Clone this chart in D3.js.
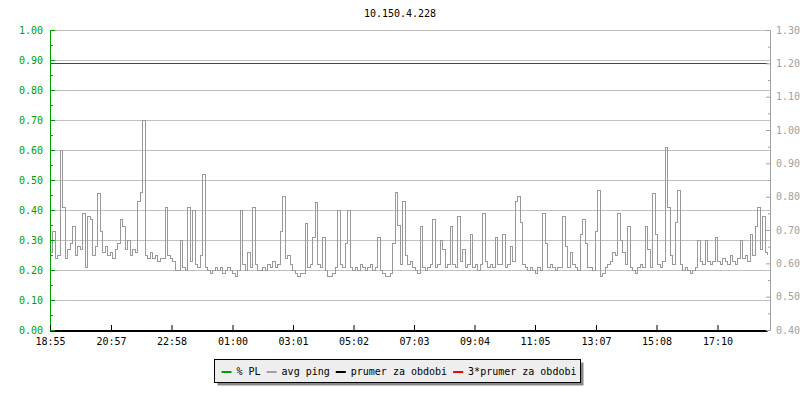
<!DOCTYPE html>
<html><head><meta charset="utf-8">
<script src="https://cdn.jsdelivr.net/npm/d3@7"></script>
<style>
body{margin:0;background:#fff}
svg{display:block}
text{font-family:"DejaVu Sans Mono","Liberation Mono",monospace;font-size:10px}
</style>
</head><body>
<svg id="c" width="800" height="400"></svg>
<script>
const title = "10.150.4.228";
const sampleMinutes = 5;
// avg ping (right axis), one value per 5 minutes starting 18:55
const avgPing = [
0.634,0.697,0.616,0.625,0.94,0.769,0.616,0.643,0.661,0.71,0.625,0.652,
0.643,0.751,0.589,0.742,0.733,0.625,0.652,0.81,0.697,0.634,0.652,0.625,
0.634,0.616,0.643,0.661,0.733,0.71,0.643,0.67,0.625,0.643,0.634,0.787,
0.814,1.03,0.625,0.616,0.634,0.616,0.625,0.607,0.616,0.616,0.769,0.625,
0.616,0.607,0.58,0.58,0.67,0.589,0.58,0.769,0.607,0.76,0.598,0.589,
0.625,0.868,0.589,0.58,0.571,0.58,0.589,0.58,0.589,0.571,0.58,0.589,
0.58,0.571,0.562,0.58,0.76,0.598,0.58,0.634,0.589,0.769,0.598,0.58,
0.58,0.589,0.58,0.598,0.589,0.607,0.589,0.598,0.697,0.80,0.616,0.625,
0.598,0.58,0.571,0.562,0.571,0.571,0.72,0.589,0.598,0.679,0.783,0.598,
0.589,0.679,0.58,0.562,0.562,0.571,0.589,0.76,0.598,0.589,0.661,0.76,
0.589,0.58,0.589,0.58,0.598,0.589,0.58,0.589,0.598,0.58,0.589,0.679,
0.58,0.571,0.562,0.562,0.571,0.661,0.814,0.715,0.598,0.787,0.625,0.598,
0.607,0.589,0.58,0.571,0.71,0.589,0.58,0.589,0.598,0.733,0.589,0.598,
0.67,0.643,0.589,0.598,0.71,0.598,0.589,0.742,0.607,0.643,0.589,0.598,
0.688,0.589,0.598,0.58,0.598,0.751,0.607,0.589,0.598,0.589,0.679,0.598,
0.598,0.688,0.589,0.598,0.652,0.607,0.787,0.80,0.724,0.598,0.589,0.58,
0.589,0.58,0.571,0.589,0.58,0.751,0.661,0.589,0.598,0.589,0.58,0.589,
0.589,0.742,0.652,0.589,0.634,0.598,0.589,0.58,0.688,0.733,0.661,0.589,
0.589,0.58,0.697,0.819,0.562,0.571,0.589,0.598,0.607,0.634,0.625,0.751,
0.67,0.634,0.598,0.71,0.589,0.58,0.571,0.589,0.598,0.589,0.71,0.643,
0.589,0.81,0.688,0.598,0.589,0.607,0.949,0.769,0.625,0.598,0.724,0.819,
0.598,0.58,0.589,0.58,0.571,0.58,0.589,0.67,0.607,0.598,0.67,0.607,
0.598,0.607,0.679,0.607,0.598,0.616,0.607,0.598,0.625,0.607,0.598,0.616,
0.67,0.616,0.625,0.607,0.688,0.625,0.71,0.769,0.643,0.742,0.634,0.625
];
const prumer = 0.40;      // prumer za obdobi (right axis)
const prumer3 = 1.20;     // 3*prumer za obdobi (right axis)
const xTickMinutes = [0,122,243,365,486,607,728,849,970,1092,1213,1335];
const xTickLabels = ["18:55","20:57","22:58","01:00","03:01","05:02","07:03","09:04","11:05","13:07","15:08","17:10"];
const leftTicks = [0,0.1,0.2,0.3,0.4,0.5,0.6,0.7,0.8,0.9,1.0];
const rightTicks = [0.4,0.5,0.6,0.7,0.8,0.9,1.0,1.1,1.2,1.3];
const legendLabels = ["% PL","avg ping","prumer za obdobi","3*prumer za obdobi"];
const legendColors = ["#00a000","#a0a0a0","#000000","#ff0000"];

const svg = d3.select("#c");
const L = 50, R = 770, T = 30, B = 330;
const x = d3.scaleLinear().domain([0,1440]).range([L,R]);
const yL = d3.scaleLinear().domain([0,1]).range([B,T]);
const yR = d3.scaleLinear().domain([0.4,1.3]).range([B,T]);
const green = "#00a000", gray = "#a0a0a0";

svg.append("text").attr("x",400).attr("y",17).attr("text-anchor","middle").attr("fill","#000").text(title);

// grid
svg.append("g").selectAll("line").data(leftTicks).join("line")
  .attr("x1",L).attr("x2",R)
  .attr("y1",d=>Math.round(yL(d))+0.5).attr("y2",d=>Math.round(yL(d))+0.5)
  .attr("stroke","#c0c0c0").attr("stroke-width",1);

// data
const tEnd = (avgPing.length-1)*sampleMinutes;
const line = d3.line().curve(d3.curveStepAfter).x((d,i)=>x(i*sampleMinutes)).y(d=>yR(d));
svg.append("path").datum(avgPing).attr("d",line)
  .attr("fill","none").attr("stroke","#999999").attr("stroke-width",1)
  .attr("shape-rendering","crispEdges");

// average lines
svg.append("line").attr("x1",x(0)).attr("x2",x(tEnd))
  .attr("y1",yR(prumer)+1).attr("y2",yR(prumer)+1)
  .attr("stroke","#000").attr("stroke-width",2);
svg.append("line").attr("x1",x(0)).attr("x2",x(tEnd))
  .attr("y1",Math.round(yR(prumer3))+0.5).attr("y2",Math.round(yR(prumer3))+0.5)
  .attr("stroke","#ee0000").attr("stroke-width",1);

// left axis
const la = svg.append("g").attr("transform",`translate(${L},0)`)
  .call(d3.axisLeft(yL).tickValues(leftTicks).tickSize(-5).tickSizeOuter(0).tickPadding(7).tickFormat(d3.format(".2f")));
la.selectAll("path,line").attr("stroke",green);
la.selectAll("text").attr("fill",green).style("font-family",'"DejaVu Sans Mono",monospace').style("font-size","10px");
const lm = svg.append("g").attr("transform",`translate(${L},0)`)
  .call(d3.axisLeft(yL).tickValues(leftTicks.slice(0,-1).map(d=>d+0.05)).tickSize(-3).tickSizeOuter(0).tickFormat(""));
lm.selectAll("path,line").attr("stroke",green);

// right axis
const ra = svg.append("g").attr("transform",`translate(${R},0)`)
  .call(d3.axisRight(yR).tickValues(rightTicks).tickSize(-4).tickSizeOuter(0).tickPadding(6).tickFormat(d3.format(".2f")));
ra.selectAll("path,line").attr("stroke",gray);
ra.selectAll("text").attr("fill",gray).style("font-family",'"DejaVu Sans Mono",monospace').style("font-size","10px");
const rm = svg.append("g").attr("transform",`translate(${R},0)`)
  .call(d3.axisRight(yR).tickValues(rightTicks.slice(0,-1).map(d=>d+0.05)).tickSize(-2).tickSizeOuter(0).tickFormat(""));
rm.selectAll("path,line").attr("stroke",gray);

// x axis
const xa = svg.append("g").attr("transform",`translate(0,${B})`)
  .call(d3.axisBottom(x).tickValues(xTickMinutes).tickSize(-5).tickSizeOuter(0).tickPadding(8)
    .tickFormat((d,i)=>xTickLabels[i]));
xa.select(".domain").remove();
xa.selectAll("line").attr("stroke","#000");
xa.selectAll("text").attr("fill","#000").style("font-family",'"DejaVu Sans Mono",monospace').style("font-size","10px");

// legend
const lg = svg.append("g");
lg.append("rect").attr("x",217.5).attr("y",362.5).attr("width",366).attr("height",23).attr("fill","#888");
lg.append("rect").attr("x",214.5).attr("y",359.5).attr("width",366).attr("height",23)
  .attr("fill","#eeeeee").attr("stroke","#000").attr("stroke-width",1);
let cx = 221.5;
legendLabels.forEach((lab,i)=>{
  lg.append("line").attr("x1",cx).attr("x2",cx+10).attr("y1",372).attr("y2",372)
    .attr("stroke",legendColors[i]).attr("stroke-width",2);
  const t = lg.append("text").attr("x",cx+15).attr("y",375).attr("fill","#000").text(lab);
  cx = cx + 15 + t.node().getComputedTextLength() + 6;
});
</script>
</body></html>
